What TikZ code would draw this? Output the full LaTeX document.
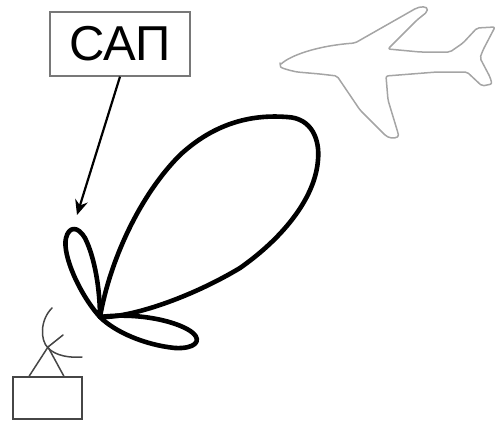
\documentclass[tikz,border=0pt]{standalone}
\usepackage{fontspec}
\setmainfont{Liberation Sans}
\usetikzlibrary{arrows.meta}
\definecolor{framegray}{RGB}{120,120,120}
\definecolor{planegray}{RGB}{165,165,165}
\definecolor{antgray}{RGB}{70,70,70}
\tikzset{
  lobe/.style={line width=4.6pt, line join=round, line cap=round},
  pointer/.style={line width=2.2pt, -{Stealth[length=15pt,width=13pt,inset=5pt]}},
  labelbox/.style={draw=framegray, line width=1.3pt, minimum width=140pt,
    minimum height=64pt, inner sep=0pt, font=\fontsize{49}{50}\selectfont},
  antenna/.style={draw=antgray, line width=1.5pt, line cap=round},
  rxbox/.style={draw=antgray, line width=1.7pt, minimum width=69pt,
    minimum height=42pt, inner sep=0pt},
  planeline/.style={draw=planegray, line width=1.5pt, line join=round, rounded corners=2pt}
}
\begin{document}
\begin{tikzpicture}[x=1pt,y=-1pt]
\useasboundingbox (0,0) rectangle (496,423);

% label and pointer
\node[labelbox] (sap) at (120,44) {САП};
\coordinate (sidetip) at (77,215);
\draw[pointer] (sap.south) -- (sidetip);

% radiation pattern: main lobe and two side lobes from one origin
\coordinate (O) at (100,317);
\draw[lobe] (O) .. controls (110,260) and (140,195) .. (180,155)
  .. controls (220,118) and (260,115) .. (287,117)
  .. controls (312,118) and (320,140) .. (318,160)
  .. controls (315,200) and (280,240) .. (240,268)
  .. controls (190,298) and (130,318) .. (O);
\draw[lobe] (O) .. controls (80,295) and (62,255) .. (66,238)
  .. controls (69,226) and (78,226) .. (85,238)
  .. controls (95,258) and (100,290) .. (O);
\draw[lobe] (O) .. controls (140,312) and (180,322) .. (193,333)
  .. controls (202,341) and (195,349) .. (175,348)
  .. controls (145,345) and (115,332) .. (O);

% ground station: receiver box, mast and dish
\node[rxbox] (rx) at (47.5,398) {};
\coordinate (apex) at (48,347);
\coordinate (feed) at (63,335);
\draw[antenna] (rx.north west) ++(17,0) -- (apex) -- ([xshift=-19pt]rx.north east);
\draw[antenna] (apex) -- (feed);
\draw[antenna] (52,308) .. controls (40,320) and (40,340) .. (48,348)
  .. controls (56,356) and (70,358) .. (82,357);

% aircraft outline
\draw[planeline] (280,65)
  .. controls (290,56) and (315,46) .. (355,43)
  -- (413,10) .. controls (420,6) and (428,6) .. (427,12)
  -- (417,20) -- (388,49)
  -- (420,52) -- (450,52) -- (463,43) -- (477,28) -- (495,27)
  -- (483,50) -- (480,58) -- (490,77) -- (492,84) -- (482,86) -- (467,72)
  -- (437,72) -- (386,76)
  -- (388,100) -- (398,133) .. controls (399,138) and (392,139) .. (386,136)
  -- (360,110) -- (337,76)
  -- (320,74) -- (297,72) .. controls (288,70) and (281,68) .. cycle;
\end{tikzpicture}
\end{document}
